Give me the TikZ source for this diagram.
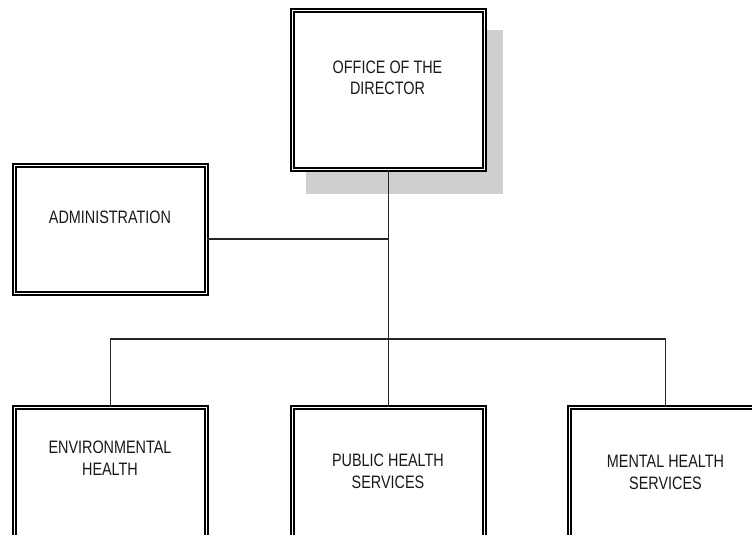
\documentclass[tikz,border=0pt]{standalone}
\usepackage{fontspec}
\newfontfamily\orgfont[FakeStretch=0.8]{Liberation Sans}
\begin{document}
\begin{tikzpicture}[x=1pt,y=-1pt,
  orgbox/.style={draw=black, line width=1.4pt, double=white, double distance=1.8pt,
    fill=white, minimum width=192pt, inner sep=0pt},
  orglabel/.style={font=\orgfont\fontsize{18}{21.7}\selectfont, align=center, anchor=base, inner sep=0pt, text=black!90},
  conn/.style={draw=black!85, line width=1.1pt}]
\useasboundingbox (0,0) rectangle (752,535);
\clip (0,0) rectangle (752,535);
% shadow of director box
\fill[black!19] (306,30) rectangle (503,194);
% boxes
\node[orgbox, minimum height=159pt] (dir) at (388.5,90) {};
\node[orgbox, minimum height=128pt] (adm) at (110.5,229.5) {};
\node[orgbox, minimum height=160pt] (env) at (110.5,487.5) {};
\node[orgbox, minimum height=160pt] (pub) at (388.5,487.5) {};
\node[orgbox, minimum height=160pt] (men) at (665.5,487.5) {};
% labels (base = last line's baseline)
\node[orglabel] (tdir) at (387.5,95) {OFFICE OF THE\\DIRECTOR};
\node[orglabel] (tadm) at (110,223) {ADMINISTRATION};
\node[orglabel] (tenv) at (110,475.5) {ENVIRONMENTAL\\HEALTH};
\node[orglabel] (tpub) at (388,488) {PUBLIC HEALTH\\SERVICES};
\node[orglabel] (tmen) at (665.5,489) {MENTAL HEALTH\\SERVICES};
% connectors
\coordinate (ja) at (388.5,239);
\coordinate (bar) at (388.5,339);
\draw[conn] (dir.south) -- (pub.north);
\draw[conn] (adm.east |- ja) -- (ja);
\draw[conn] (env.north) -- (env.north |- bar) -- (men.north |- bar) -- (men.north);
\end{tikzpicture}
\end{document}
